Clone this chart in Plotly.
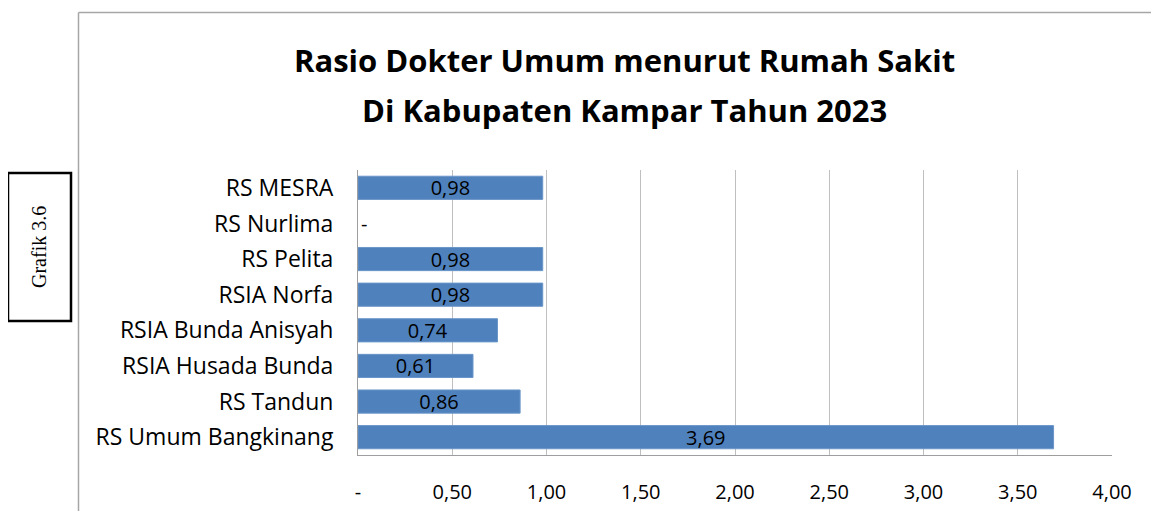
import plotly.graph_objects as go

categories = ["RS MESRA", "RS Nurlima", "RS Pelita", "RSIA Norfa", "RSIA Bunda Anisyah",
              "RSIA Husada Bunda", "RS Tandun", "RS Umum Bangkinang"]
values = [0.98, 0.0, 0.98, 0.98, 0.74, 0.61, 0.86, 3.69]
tick_vals = [0, 0.5, 1.0, 1.5, 2.0, 2.5, 3.0, 3.5, 4.0]
tick_text = ["-", "0,50", "1,00", "1,50", "2,00", "2,50", "3,00", "3,50", "4,00"]
title_lines = ["Rasio Dokter Umum menurut Rumah Sakit", "Di Kabupaten Kampar Tahun 2023"]
side_label = "Grafik 3.6"

# page body has an 8px margin; work in screen pixels and offset
OFF = 8
W, H = 1159 - OFF, 511 - OFF
L, R, T, B = 358 - OFF, 1112 - OFF, 170 - OFF, 455 - OFF
FONT = "Open Sans"

def px(x):
    return (x - OFF - L) / (R - L)

def py(y):
    return (B - (y - OFF)) / (B - T)

labels = [f"{v:.2f}".replace(".", ",") if v > 0 else "" for v in values]
edge_widths = [1 if v > 0 else 0 for v in values]

fig = go.Figure(go.Bar(
    y=categories, x=values, orientation="h",
    marker=dict(color="#4F81BD", line=dict(color="#6A95C8", width=edge_widths)),
    width=0.65,
    text=labels, textposition="inside", insidetextanchor="middle",
    constraintext="none",
    textfont=dict(family=FONT, size=20, color="black"),
    cliponaxis=False,
))

annotations = []
for c, v in zip(categories, values):
    if v == 0:
        annotations.append(dict(x=v, y=c, xref="x", yref="y", text="-", showarrow=False,
                                xanchor="left", xshift=1,
                                font=dict(family=FONT, size=20, color="black")))

annotations.append(dict(x=px(624), y=py(60), xref="paper", yref="paper", text="<b>" + title_lines[0] + "</b>",
                        showarrow=False, xanchor="center", yanchor="middle",
                        font=dict(family=FONT, size=31, color="black")))
annotations.append(dict(x=px(624), y=py(110), xref="paper", yref="paper", text="<b>" + title_lines[1] + "</b>",
                        showarrow=False, xanchor="center", yanchor="middle",
                        font=dict(family=FONT, size=31, color="black")))
annotations.append(dict(x=px(39), y=py(247), xref="paper", yref="paper", text=side_label,
                        showarrow=False, textangle=-90, xanchor="center", yanchor="middle",
                        font=dict(family="Liberation Serif", size=20, color="black")))

shapes = [
    dict(type="line", xref="paper", yref="paper", x0=px(78.5), x1=px(78.5), y0=py(12.5), y1=py(530),
         line=dict(color="#A6A6A6", width=1.5)),
    dict(type="line", xref="paper", yref="paper", x0=px(78.5), x1=px(1180), y0=py(12.5), y1=py(12.5),
         line=dict(color="#A6A6A6", width=1.5)),
    dict(type="rect", xref="paper", yref="paper", x0=px(8), x1=px(71), y0=py(173), y1=py(321),
         line=dict(color="black", width=2.5)),
]

fig.update_layout(
    width=W, height=H,
    margin=dict(l=L, r=W - R, t=T, b=H - B, autoexpand=False),
    paper_bgcolor="white", plot_bgcolor="white",
    showlegend=False,
    bargap=0.35,
    annotations=annotations,
    shapes=shapes,
    xaxis=dict(range=[0, 4.0], tickvals=tick_vals, ticktext=tick_text,
               showgrid=True, gridcolor="#BFBFBF", gridwidth=1,
               showline=True, linecolor="#9E9E9E", linewidth=1, mirror=False,
               zeroline=False, ticks="", ticklabelstandoff=19,
               tickfont=dict(family=FONT, size=20, color="black")),
    yaxis=dict(autorange="reversed", showgrid=False, showline=True, linecolor="#9E9E9E",
               linewidth=1, ticks="", ticklabelstandoff=19,
               tickfont=dict(family=FONT, size=23, color="black")),
)

fig.write_html("out.html")
